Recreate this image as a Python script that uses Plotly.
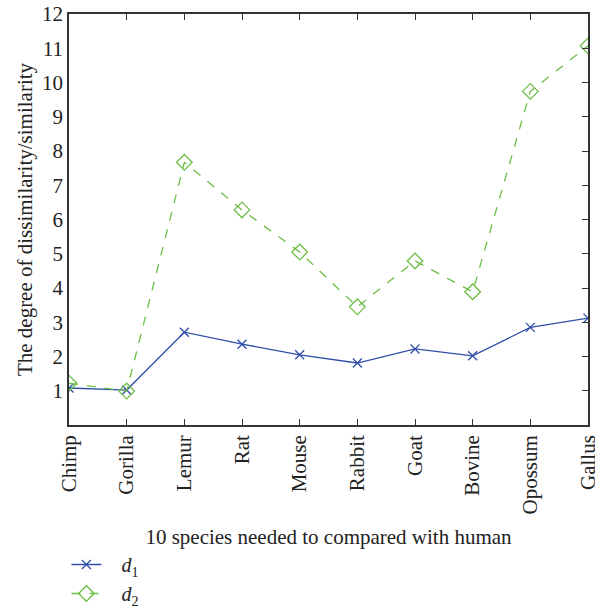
import plotly.graph_objects as go

species = ["Chimp", "Gorilla", "Lemur", "Rat", "Mouse", "Rabbit", "Goat", "Bovine", "Opossum", "Gallus"]
d1 = [1.08, 1.02, 2.71, 2.36, 2.05, 1.81, 2.22, 2.02, 2.85, 3.12]
d2 = [1.22, 0.99, 7.67, 6.28, 5.05, 3.45, 4.79, 3.89, 9.74, 11.07]
yticks = list(range(1, 13))

blue = "#2F4FA8"
green = "#6DBE45"
axc = "#333333"
txtc = "#222222"
font = "Liberation Serif"

fig = go.Figure()
fig.add_trace(go.Scatter(
    x=species, y=d1, mode="lines+markers", name="   <i>d</i><sub>1</sub>",
    line=dict(color=blue, width=1.3),
    marker=dict(symbol="x-thin-open", size=9, line=dict(color=blue, width=1.3)),
))
fig.add_trace(go.Scatter(
    x=species, y=d2, mode="lines+markers", name="   <i>d</i><sub>2</sub>",
    line=dict(color=green, width=1.3, dash="dash"),
    marker=dict(symbol="diamond-open", size=12, color=green, line=dict(color=green, width=1.3)),
))
# invisible trace for right axis
fig.add_trace(go.Scatter(x=species, y=d1, yaxis="y2", mode="none", showlegend=False, hoverinfo="skip"))

fig.update_layout(
    width=595, height=609,
    margin=dict(l=69, r=7, t=14, b=184, autoexpand=False),
    paper_bgcolor="white", plot_bgcolor="white",
    font=dict(family=font, size=21, color=txtc),
    xaxis=dict(
        range=[0, 9], showline=True, linecolor=axc, linewidth=1.5, mirror="ticks",
        ticks="inside", ticklen=6, tickcolor=axc, tickangle=-90,
        showgrid=False, zeroline=False,
        title=dict(text="10 species needed to compared with human", standoff=16, font=dict(size=21)),
        tickfont=dict(size=21),
    ),
    yaxis=dict(
        range=[0, 12], tickvals=yticks, showline=True, linecolor=axc, linewidth=1.5,
        ticks="", showgrid=False, zeroline=False,
        title=dict(text="The degree of dissimilarity/similarity", standoff=4, font=dict(size=21)),
        tickfont=dict(size=21),
    ),
    yaxis2=dict(
        range=[0, 12], tickvals=yticks, overlaying="y", side="right", showline=True,
        linecolor=axc, linewidth=1.5, ticks="inside", ticklen=6, tickcolor=axc,
        showticklabels=False, showgrid=False, zeroline=False,
    ),
    legend=dict(x=-0.005, y=-0.292, xanchor="left", yanchor="top",
                font=dict(size=20), bgcolor="rgba(0,0,0,0)", tracegroupgap=0),
    showlegend=True,
)

fig.write_html("out.html")
